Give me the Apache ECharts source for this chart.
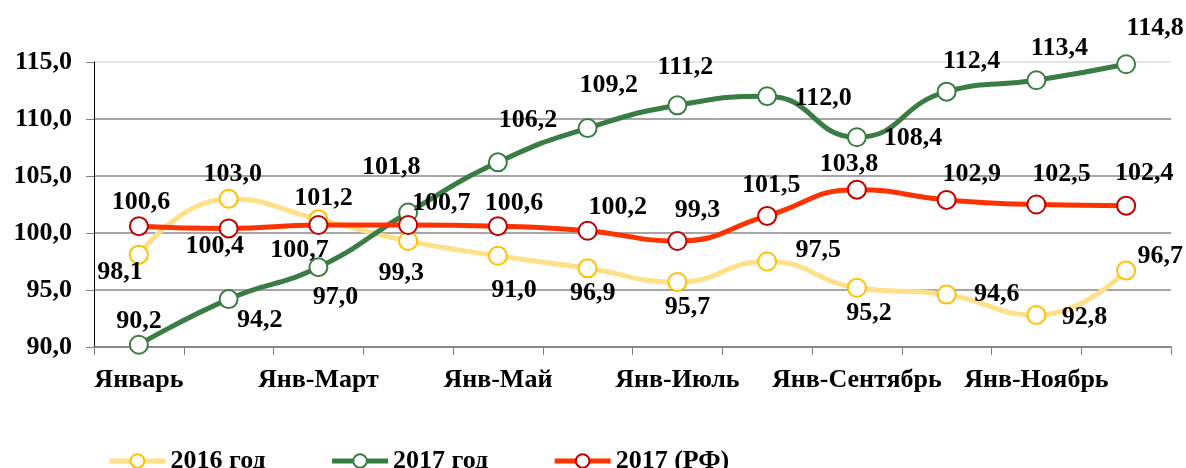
<!DOCTYPE html>
<html>
<head>
<meta charset="utf-8">
<script src="https://cdn.jsdelivr.net/npm/echarts@6/dist/echarts.min.js"></script>
<style>
    html, body { margin: 0; padding: 0; background: #fff; }
    #chart { width: 1186px; height: 468px; }
</style>
</head>
<body>
<div id="chart"></div>
<script>
var months = ['Январь', 'Янв-Февраль', 'Янв-Март', 'Янв-Апрель', 'Янв-Май', 'Янв-Июнь',
    'Янв-Июль', 'Янв-Август', 'Янв-Сентябрь', 'Янв-Октябрь', 'Янв-Ноябрь', 'Янв-Декабрь'];
var seriesNames = ['2016 год', '2017 год', '2017 (РФ)'];
var values2016 = [98.1, 103.0, 101.2, 99.3, 98.0, 96.9, 95.7, 97.5, 95.2, 94.6, 92.8, 96.7];
var values2017 = [90.2, 94.2, 97.0, 101.8, 106.2, 109.2, 111.2, 112.0, 108.4, 112.4, 113.4, 114.8];
var valuesRF = [100.6, 100.4, 100.7, 100.7, 100.6, 100.2, 99.3, 101.5, 103.8, 102.9, 102.5, 102.4];
// the picture labels the 5th point of 2016 as "91,0"
var labelText2016 = {4: '91,0'};
var yTicks = [90, 95, 100, 105, 110, 115];

// label offsets from the marker centre, px
var off2016 = [[-19, 18], [4, -25], [5, -21], [-7, 32], [16, 34], [5, 25],
    [10, 25], [51, -11], [12, 26], [50, 0], [48, 2], [34, -14]];
var off2017 = [[0, -23], [31, 21], [17, 30], [-17, -45], [30, -42], [21, -43],
    [8, -38], [56, 2], [56, 1], [25, -30], [23, -32], [29, -36]];
var offRF = [[2, -24], [-14, 18], [-19, 25], [33, -22], [16, -23], [30, -23],
    [20, -31], [4, -31], [-8, -25], [25, -26], [25, -30], [18, -32]];

var font = '"Liberation Serif", "Times New Roman", serif';

function fmt(v) {
    return v.toFixed(1).replace('.', ',');
}

function makeData(values, offsets, fix) {
    return values.map(function (v, i) {
        return {
            value: v,
            label: {
                offset: offsets[i],
                formatter: (fix && fix[i]) ? fix[i] : fmt(v)
            }
        };
    });
}

function makeSeries(name, values, offsets, lineColor, markColor, fix) {
    return {
        name: name,
        type: 'line',
        smooth: 0.5,
        symbol: 'circle',
        symbolSize: 18,
        data: makeData(values, offsets, fix),
        lineStyle: { color: lineColor, width: 5 },
        itemStyle: { color: '#fff', borderColor: markColor, borderWidth: 2 },
        label: {
            show: true,
            position: 'inside',
            color: '#000',
            fontFamily: font,
            fontWeight: 'bold',
            fontSize: 26
        },
        emphasis: { disabled: true }
    };
}

var myChart = echarts.init(document.getElementById('chart'));
var option = {
    animation: false,
    color: ['#FFE08A', '#3A7D44', '#FF3300'],
    grid: { left: 94, right: 15, top: 62, bottom: 121 },
    legend: {
        top: 443,
        left: 102,
        itemWidth: 56,
        itemHeight: 17,
        itemGap: 64,
        lineStyle: { width: 5 },
        textStyle: { fontFamily: font, fontWeight: 'bold', fontSize: 26, color: '#000' },
        data: seriesNames
    },
    xAxis: {
        type: 'category',
        data: months,
        boundaryGap: true,
        axisLine: { lineStyle: { color: '#7f7f7f', width: 1.5 } },
        axisTick: { show: true, interval: 0, length: 8, lineStyle: { color: '#7f7f7f' } },
        axisLabel: {
            interval: 1,
            margin: 20,
            color: '#000',
            fontFamily: font,
            fontWeight: 'bold',
            fontSize: 26
        },
        splitLine: { show: false }
    },
    yAxis: {
        type: 'value',
        min: yTicks[0],
        max: yTicks[yTicks.length - 1],
        interval: 5,
        axisLine: { show: true, lineStyle: { color: '#000', width: 1 } },
        axisTick: { show: true, length: 8, lineStyle: { color: '#7f7f7f' } },
        axisLabel: {
            margin: 22,
            color: '#000',
            fontFamily: font,
            fontWeight: 'bold',
            fontSize: 26,
            formatter: function (v) { return fmt(v); }
        },
        splitLine: {
            show: true,
            lineStyle: { color: ['#888888', '#888888', '#888888', '#888888', '#888888', '#dcdcdc'], width: 1.5 }
        }
    },
    series: [
        makeSeries(seriesNames[0], values2016, off2016, '#FFE08A', '#FFC000', labelText2016),
        makeSeries(seriesNames[1], values2017, off2017, '#3A7D44', '#3A7D44'),
        makeSeries(seriesNames[2], valuesRF, offRF, '#FF3300', '#C00000')
    ]
};
myChart.setOption(option);
</script>
</body>
</html>
